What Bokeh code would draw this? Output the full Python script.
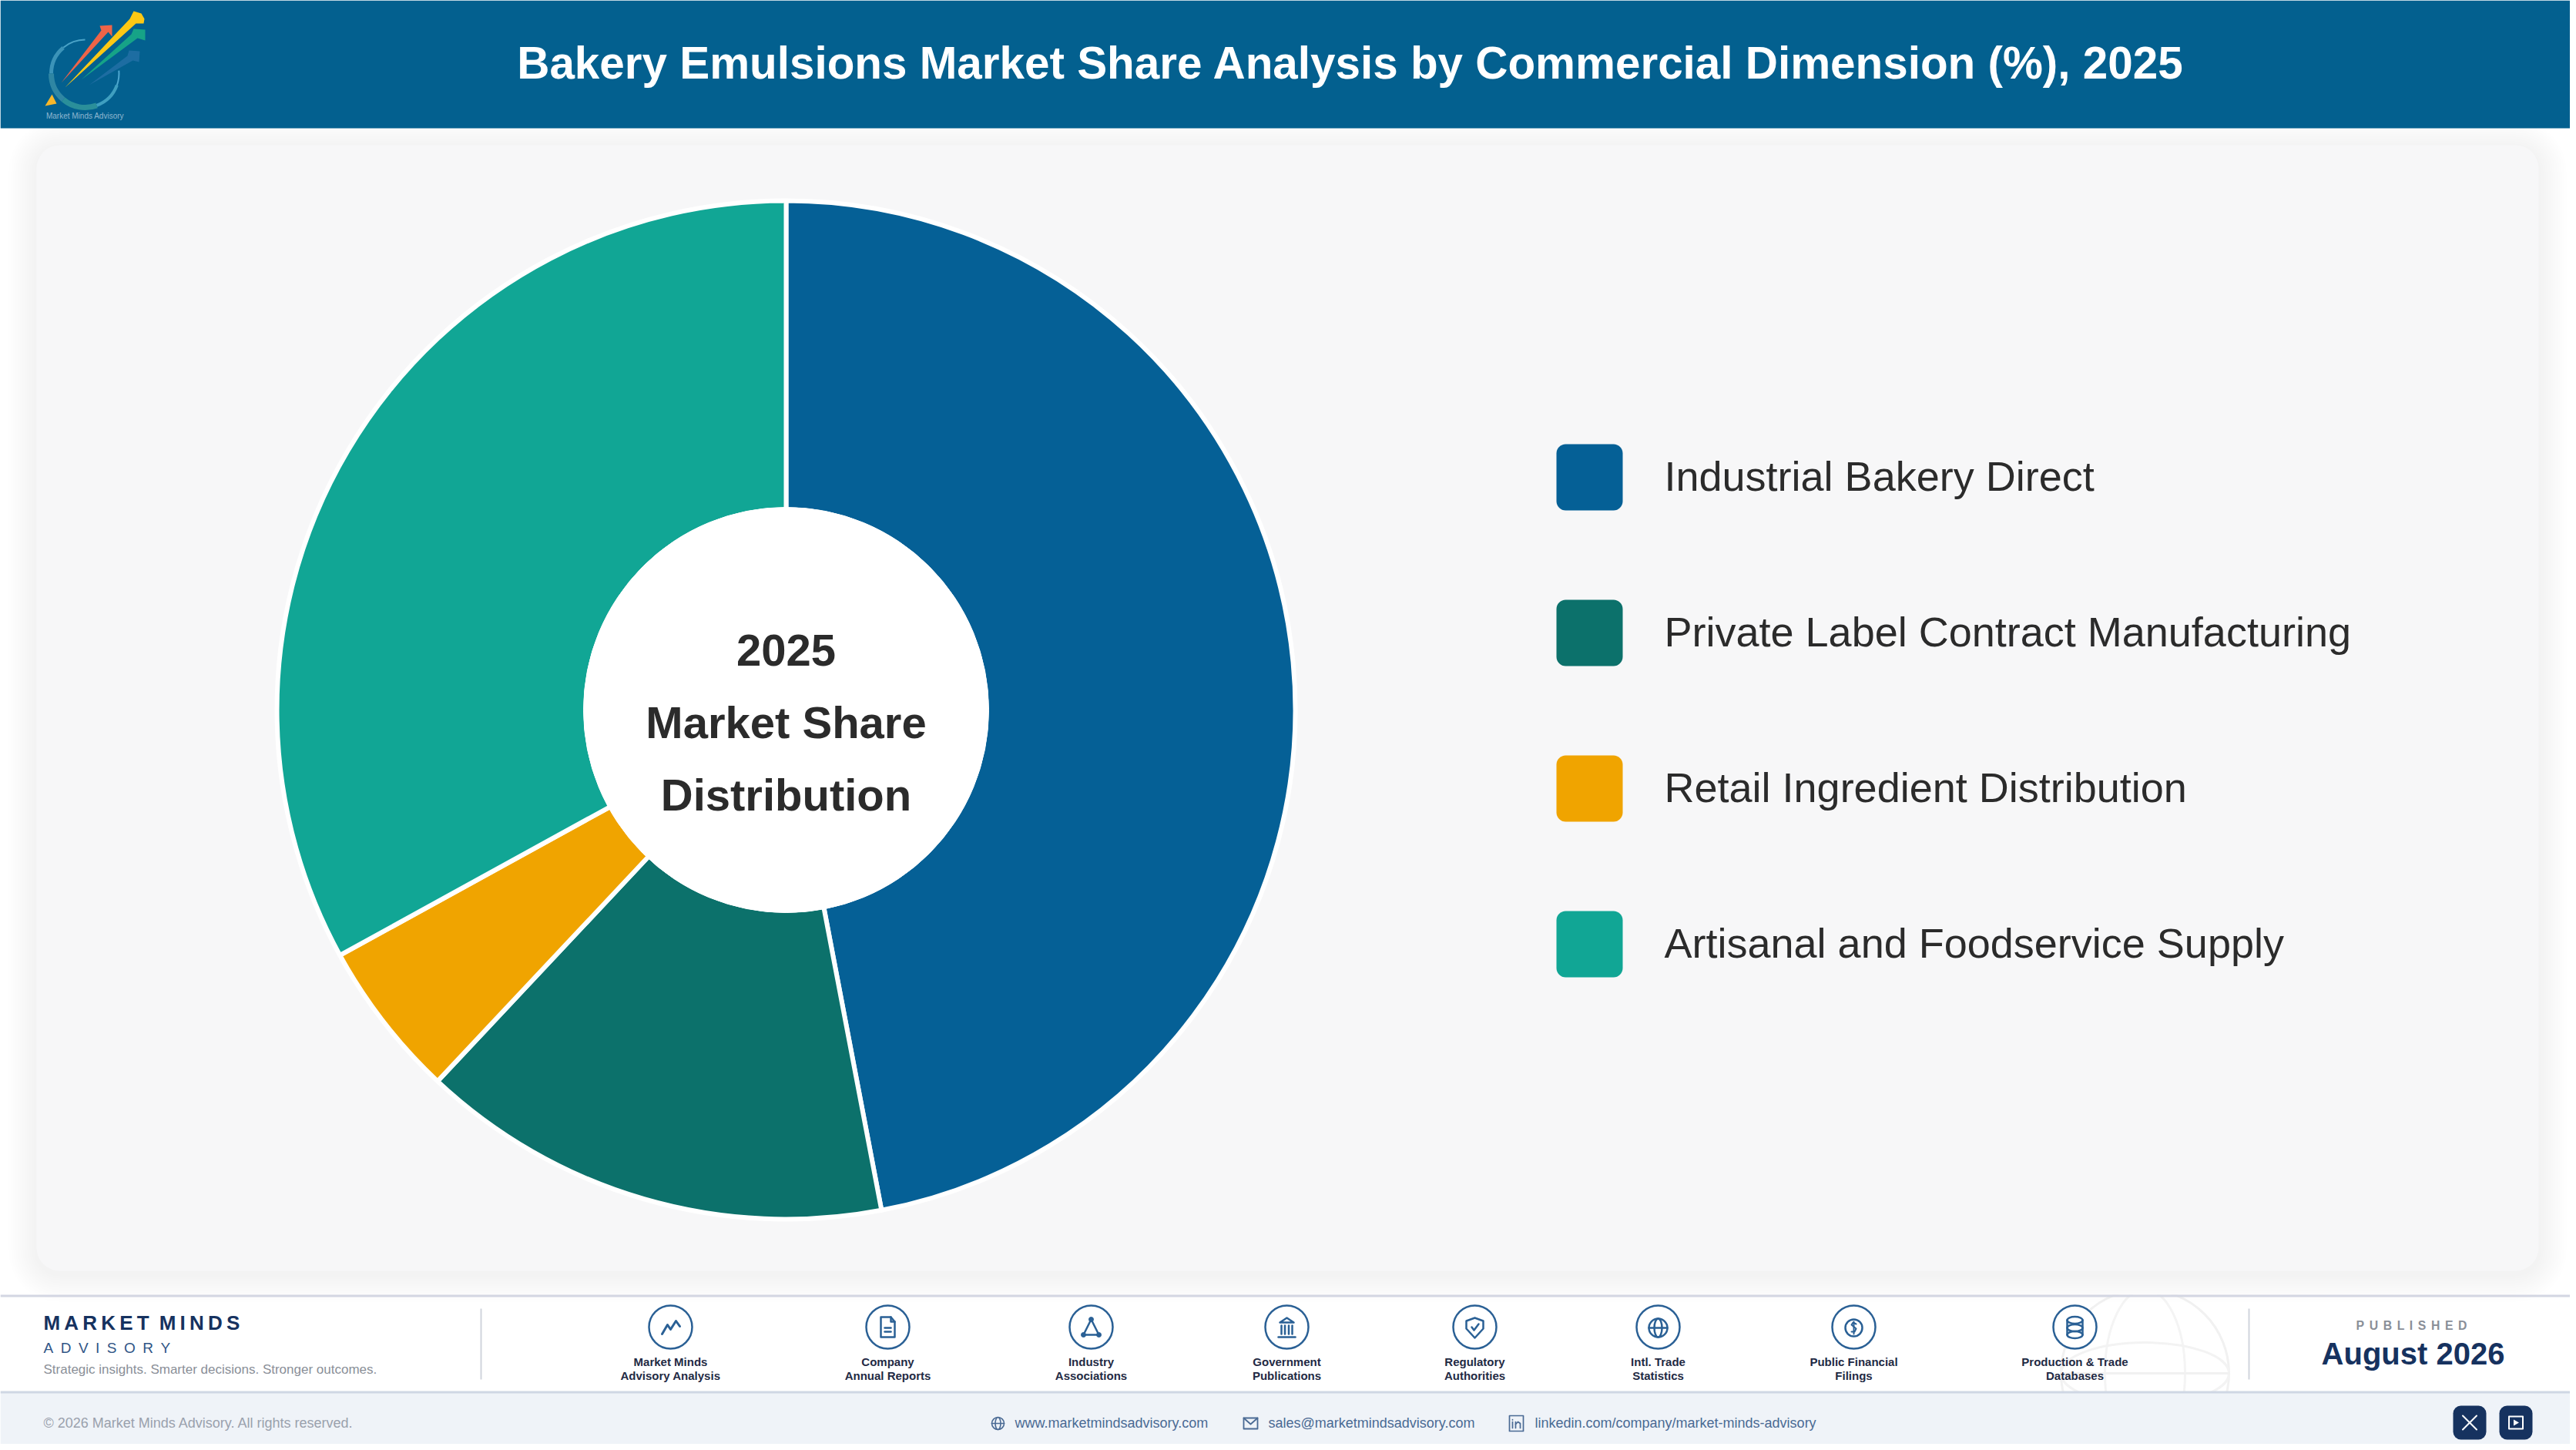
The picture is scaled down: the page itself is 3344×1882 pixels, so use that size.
import math
from bokeh.plotting import figure
from bokeh.models import Range1d, ColumnDataSource
from bokeh.core.properties import value
from bokeh.embed import file_html
from bokeh.resources import INLINE

TITLE = "Bakery Emulsions Market Share Analysis by Commercial Dimension (%), 2025"
CATEGORIES = ["Industrial Bakery Direct", "Private Label Contract Manufacturing",
              "Retail Ingredient Distribution", "Artisanal and Foodservice Supply"]
SHARES = [47, 15, 5, 33]
COLORS = ["#056096", "#0c716b", "#f0a400", "#11a695"]
CENTER_LINES = ["2025", "Market Share", "Distribution"]
SOURCES = [["Market Minds", "Advisory Analysis"], ["Company", "Annual Reports"],
           ["Industry", "Associations"], ["Government", "Publications"],
           ["Regulatory", "Authorities"], ["Intl. Trade", "Statistics"],
           ["Public Financial", "Filings"], ["Production & Trade", "Databases"]]
SOURCE_X = [870, 1152, 1416, 1670, 1914, 2152, 2406, 2693]
CONTACTS = ["www.marketmindsadvisory.com", "sales@marketmindsadvisory.com",
            "linkedin.com/company/market-minds-advisory"]

FONT = "Liberation Sans"
NAVY = "#16325f"
ICON = "#2a6095"
THIN = "\u2009"

W, H = 3336, 1874
p = figure(width=W, height=H, output_backend="svg", toolbar_location=None,
           x_range=Range1d(0, W), y_range=Range1d(H, 0),
           min_border=0, outline_line_color=None, background_fill_color="white",
           border_fill_color="white")
p.axis.visible = False
p.grid.visible = False


def box(l, r, t, b, color, alpha=1.0, radius=0):
    p.quad(left=l, right=r, top=t, bottom=b, fill_color=color, fill_alpha=alpha,
           line_color=None, border_radius=radius)


def text(x, y, s, size, color, bold=False, align="left"):
    p.text(x=[x], y=[y], text=[s], text_font=value(FONT), text_font_size=f"{size}px",
           text_color=color, text_font_style="bold" if bold else "normal",
           text_align=align, text_baseline="middle")


def strokes(cx, cy, paths, color=ICON, width=2.5):
    p.multi_line(xs=[[cx + a for a, _ in q] for q in paths],
                 ys=[[cy + b for _, b in q] for q in paths],
                 line_color=color, line_width=width, line_cap="round", line_join="round")


def ring(cx, cy, r, color=ICON, width=2.5, fill=None):
    p.circle(x=[cx], y=[cy], radius=r, line_color=color, line_width=width,
             fill_color=fill, fill_alpha=1.0 if fill else 0.0)


def oval(cx, cy, w, h, color=ICON, width=2.5):
    p.ellipse(x=[cx], y=[cy], width=w, height=h, line_color=color, line_width=width,
              fill_alpha=0.0)


# faint globe watermark, sits beneath the bands
gx, gy = 2784, 1782
ring(gx, gy, 109, "#f1f1f1", 3)
oval(gx, gy, 104, 218, "#f4f4f4", 3)
oval(gx, gy, 218, 80, "#f3f3f3", 3)
strokes(gx, gy, [[(-109, 0), (109, 0)]], "#f1f1f1", 3)
box(0, W, 0, 1680, "white")

# main panel with a soft shadow
for i in range(12, 0, -1):
    box(47 - i * 3, 3295 + i * 3, 188 - i * 3 + 4, 1649 + i * 3 + 4, "#707480", 0.006, 30 + i * 3)
box(47, 3295, 188, 1649, "#f7f7f8", 1.0, 30)

# header
box(0, W, 0, 166, "#03608f")
text(1753, 81, TITLE, 58.4, "white", True, "center")

# logo
for a0, a1, w, c in [(90, 130, 2, "#4aa3c8"), (130, 180, 5, "#3b93b8"), (180, 230, 7, "#2f86a3"),
                     (230, 290, 7, "#2a8f9a"), (290, 340, 4, "#3f9fc0"), (340, 365, 2, "#4fa8d0")]:
    p.arc(x=[110], y=[95], radius=44, start_angle=math.radians(a0), end_angle=math.radians(a1),
          line_color=c, line_width=w)
for pts, c, a in [
    ([(115, 110), (165, 72), (167, 65), (181, 66), (180, 80), (172, 78)], "#2a74aa", 0.7),
    ([(105, 103), (170, 44), (173, 37), (188, 38), (188, 52), (178, 49)], "#16a387", 1),
    ([(79, 107), (131, 39), (129, 33), (145, 32), (145, 47), (140, 41)], "#ee6448", 1),
    ([(84, 113), (168, 24), (173, 14), (183, 17), (187, 24), (186, 30), (176, 30)], "#fcc814", 1),
    ([(58, 137), (67, 122), (73, 134)], "#f7b72a", 1),
]:
    p.patch([q[0] for q in pts], [q[1] for q in pts], fill_color=c, fill_alpha=a, line_color=None)
text(110, 150, "Market Minds Advisory", 10, "#8fb7d0", False, "center")

# donut
cum = [sum(SHARES[:i]) for i in range(len(SHARES))]
src = ColumnDataSource(dict(
    start=[math.pi / 2 - 2 * math.pi * c / 100 for c in cum],
    end=[math.pi / 2 - 2 * math.pi * (c + s) / 100 for c, s in zip(cum, SHARES)],
    color=COLORS))
p.annular_wedge(x=1020, y=921, inner_radius=260, outer_radius=661, start_angle="start",
                end_angle="end", direction="clock", fill_color="color", line_color="white",
                line_width=6, source=src)
ring(1020, 921, 263, "white", 1, "white")
for y, s in zip([843, 937, 1031], CENTER_LINES):
    text(1020, y, s, 58, "#2b2b2b", True, "center")

# legend
for i, (c, s) in enumerate(zip(COLORS, CATEGORIES)):
    top = 576 + 202 * i
    box(2020, 2106, top, top + 86, c, 1.0, 12)
    text(2160, top + 41, s, 54, "#2b2b2b")

# footer bands
box(0, W, 1806, H, "#eff3f8")
box(0, W, 1680, 1683, "#d3d6e2")
box(0, W, 1805, 1808, "#cfd7e4")
box(623, 625, 1698, 1790, "#d0d4dc")
box(2918, 2920, 1698, 1790, "#d0d4dc")

text(56, 1716, THIN.join("MARKET") + "\u2002" + THIN.join("MINDS"), 26, NAVY, True)
text(56, 1749, "\u2002".join("ADVISORY"), 19, "#2f5586")
text(56, 1777, "Strategic insights. Smarter decisions. Stronger outcomes.", 17, "#8a8f98")
text(56, 1846, "\u00a9 2026 Market Minds Advisory. All rights reserved.", 18, "#9aa1ad")

# source icons
for x, lines in zip(SOURCE_X, SOURCES):
    ring(x, 1722, 28, ICON, 2.5, "white")
    text(x, 1767, lines[0], 15, "#1f2a44", True, "center")
    text(x, 1785, lines[1], 15, "#1f2a44", True, "center")

Y = 1722
strokes(SOURCE_X[0], Y, [[(-11, 9), (-4, -3), (0, 3), (7, -8), (12, -1)]], width=3)
strokes(SOURCE_X[1], Y, [[(-9, -13), (4, -13), (9, -7), (9, 13), (-9, 13), (-9, -13)],
                         [(4, -13), (4, -7), (9, -7)], [(-4, 1), (4, 1)], [(-4, 6), (4, 6)]])
strokes(SOURCE_X[2], Y, [[(0, -10), (-10, 10), (10, 10), (0, -10)]])
for a, b in [(0, -10), (-10, 10), (10, 10)]:
    ring(SOURCE_X[2] + a, Y + b, 3, ICON, 1, ICON)
strokes(SOURCE_X[3], Y, [[(-9, -6), (0, -12), (9, -6), (-9, -6)], [(-11, 13), (11, 13)],
                         [(-7, -2), (-7, 9)], [(-2.5, -2), (-2.5, 9)], [(2.5, -2), (2.5, 9)], [(7, -2), (7, 9)]])
strokes(SOURCE_X[4], Y, [[(0, -12), (11, -8), (11, 2), (0, 14), (-11, 2), (-11, -8), (0, -12)],
                         [(-4, 0), (-1, 4), (5, -4)]])
ring(SOURCE_X[5], Y + 1, 12)
oval(SOURCE_X[5], Y + 1, 10, 24)
strokes(SOURCE_X[5], Y + 1, [[(-12, 0), (12, 0)]])
ring(SOURCE_X[6], Y + 1, 11)
strokes(SOURCE_X[6], Y + 1, [[(3, -5), (-1, -7), (-3, -4), (3, 1), (1, 5), (-3, 5)], [(0, -8), (0, 8)]], width=2)
for dy in (-9, 1, 10):
    oval(SOURCE_X[7], Y + dy, 20, 9)
strokes(SOURCE_X[7], Y, [[(-10, -9), (-10, 10)], [(10, -9), (10, 10)]])

# published
text(3130, 1720, "\u2004\u200a".join("PUBLISHED"), 15.8, "#8a8f98", True, "center")
text(3132, 1756, "August 2026", 40, NAVY, True, "center")

# contact row
for x, s in zip([1317, 1646, 1992], CONTACTS):
    text(x, 1846, s, 18, "#4a6a94")
ring(1295, 1847, 8, "#4a6a94", 1.6)
oval(1295, 1847, 7, 16, "#4a6a94", 1.6)
strokes(1295, 1847, [[(-8, 0), (8, 0)]], "#4a6a94", 1.6)
strokes(1623, 1847, [[(-9, -7), (9, -7), (9, 7), (-9, 7), (-9, -7)], [(-9, -7), (0, 1), (9, -7)]], "#4a6a94", 1.8)
strokes(1968, 1847, [[(-9, -10), (9, -10), (9, 10), (-9, 10), (-9, -10)],
                     [(-5, -2), (-5, 6)], [(-5, -5), (-5, -4.5)],
                     [(-1, 6), (-1, -2)], [(-1, 1), (2, -2), (5, 0), (5, 6)]], "#4a6a94", 1.7)

# social buttons
box(3184, 3227, 1824, 1868, NAVY, 1.0, 10)
box(3244, 3287, 1824, 1868, NAVY, 1.0, 10)
strokes(3205.5, 1846, [[(-9, -9), (9, 9)], [(9, -9), (-9, 9)]], "white", 2)
strokes(3265.5, 1846, [[(-9, -8), (9, -8), (9, 8), (-9, 8), (-9, -8)]], "white", 2)
p.patch([3262.5, 3262.5, 3269.5], [1842, 1850, 1846], fill_color="white", line_color=None)

open("out.html", "w").write(file_html(p, INLINE))
